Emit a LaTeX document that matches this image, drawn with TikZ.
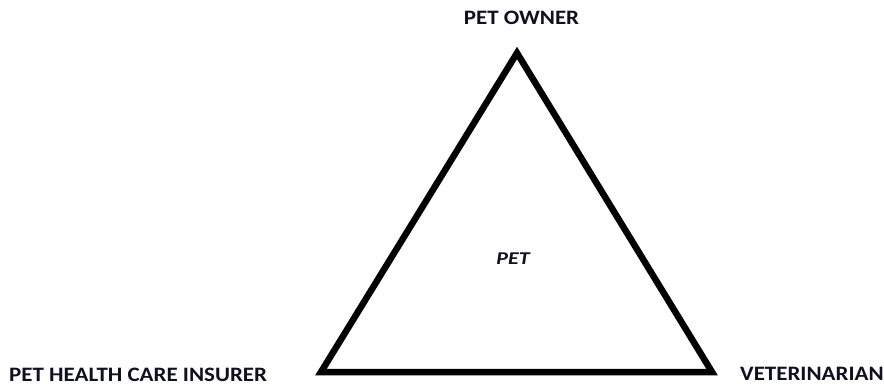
\documentclass[tikz,border=0pt]{standalone}
\usepackage{fontspec}
\setmainfont{Carlito}
\definecolor{labelink}{HTML}{101020}
\newcommand{\widelbl}[2]{\scalebox{#1}[1]{#2}}
\begin{document}
\begin{tikzpicture}[x=1pt,y=-1pt,
  lbl/.style={font=\fontsize{20.5}{23}\selectfont\bfseries, text=labelink, inner sep=0pt},
  side/.style={line width=6.5pt, line join=miter, draw=black}]
\useasboundingbox[fill=white] (0,0) rectangle (884,385);
\coordinate (top) at (517,53);
\coordinate (bl) at (321,372);
\coordinate (br) at (712,372);
\draw[side] (top) -- (br) -- (bl) -- cycle;
\node[lbl] (owner) at (521.5,18.3) {\widelbl{1.12}{PET OWNER}};
\node[lbl, anchor=west] (insurer) at (9,375) {\widelbl{1.12}{PET HEALTH CARE INSURER}};
\node[lbl, anchor=west] (vet) at (740,373.4) {\widelbl{1.12}{VETERINARIAN}};
\node[lbl, font=\fontsize{18}{20}\selectfont\bfseries\itshape] (pet) at (513,258.5) {\widelbl{1.22}{PET}};
\end{tikzpicture}
\end{document}
